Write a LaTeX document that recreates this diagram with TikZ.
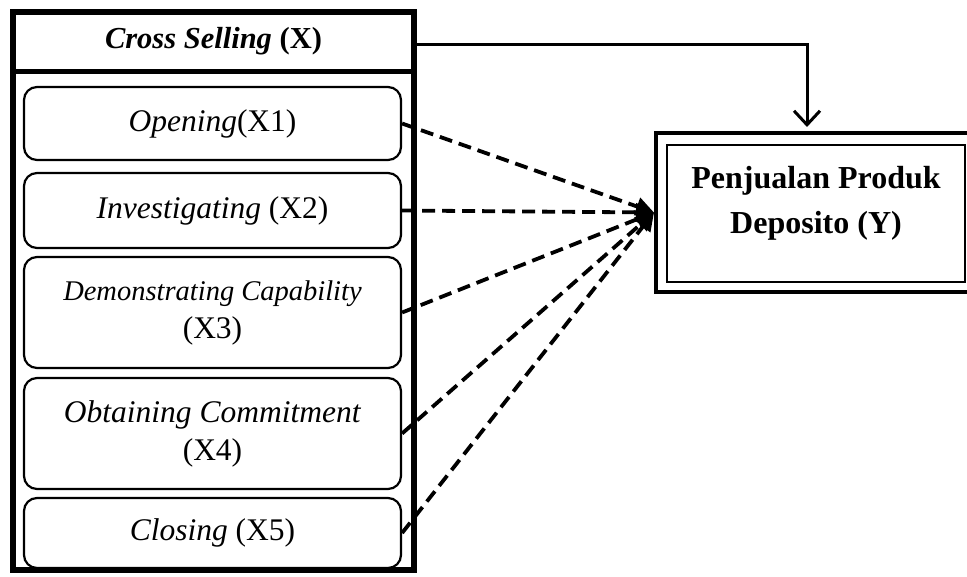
\documentclass[tikz,border=0pt]{standalone}
\usepackage{fontspec}
\setmainfont{Liberation Serif}
\usetikzlibrary{arrows.meta}
\begin{document}
\begin{tikzpicture}[x=1pt,y=-1pt,
  sub/.style={draw, line width=2.2pt, rounded corners=13pt, minimum width=377pt, align=center, inner sep=0pt},
  dl/.style={line width=3.8pt, dash pattern=on 13pt off 7pt, -{Triangle[length=18pt,width=18pt]}},
  txt/.style={font=\fontsize{31.5}{38}\selectfont},
  smalltxt/.style={font=\fontsize{28.5}{35}\selectfont}]
\useasboundingbox (0,0) rectangle (967,577);
\fill[white] (0,0) rectangle (967,577);
% left frame
\node[draw, line width=6pt, minimum width=401pt, minimum height=558pt, inner sep=0pt] (frame) at (213.5,291) {};
\node[minimum width=401pt, minimum height=59pt, inner sep=0pt, font=\fontsize{30.5}{36}\selectfont] (hdr) at (213.5,41.5) {\textbf{\textit{Cross Selling}} \textbf{(X)}};
\draw[line width=5pt] (hdr.south west) -- (hdr.south east);
% sub boxes
\node[sub, txt, minimum height=73pt] (b1) at (212.5,123.5) {\textit{Opening}(X1)};
\node[sub, txt, minimum height=75pt] (b2) at (212.5,210.5) {\textit{Investigating} (X2)};
\node[sub, smalltxt, minimum height=111pt] (b3) at (212.5,312.5) {\textit{Demonstrating Capability}\\[3pt]{\fontsize{31.5}{38}\selectfont (X3)}};
\node[sub, txt, minimum height=111pt] (b4) at (212.5,433.5) {\textit{Obtaining Commitment}\\(X4)};
\node[sub, txt, minimum height=70pt] (b5) at (212.5,533) {\textit{Closing} (X5)};
% Y box
\node[draw, line width=4pt, minimum width=322pt, minimum height=159pt, inner sep=0pt] (Y) at (817,212.5) {};
\node[draw, line width=2.5pt, minimum width=298pt, minimum height=137pt, inner sep=0pt] (Yin) at (816,213.5) {};
\node[align=center, font=\bfseries\fontsize{32}{45}\selectfont] (Yt) at (816,203) {Penjualan Produk\\Deposito (Y)};
% header arrow
\coordinate (turn) at (807,45);
\coordinate (tipend) at (807,127);
\draw[line width=3pt, -{Straight Barb[length=14pt,width=26pt,line width=3pt]}] (hdr.east |- turn) -- (turn) -- (tipend);
% dashed connectors
\draw[dl] (b1.east) -- (Y.west);
\draw[dl] (b2.east) -- (Y.west);
\draw[dl] (b3.east) -- (Y.west);
\draw[dl] (b4.east) -- (Y.west);
\draw[dl] (b5.east) -- (Y.west);
\end{tikzpicture}
\end{document}
